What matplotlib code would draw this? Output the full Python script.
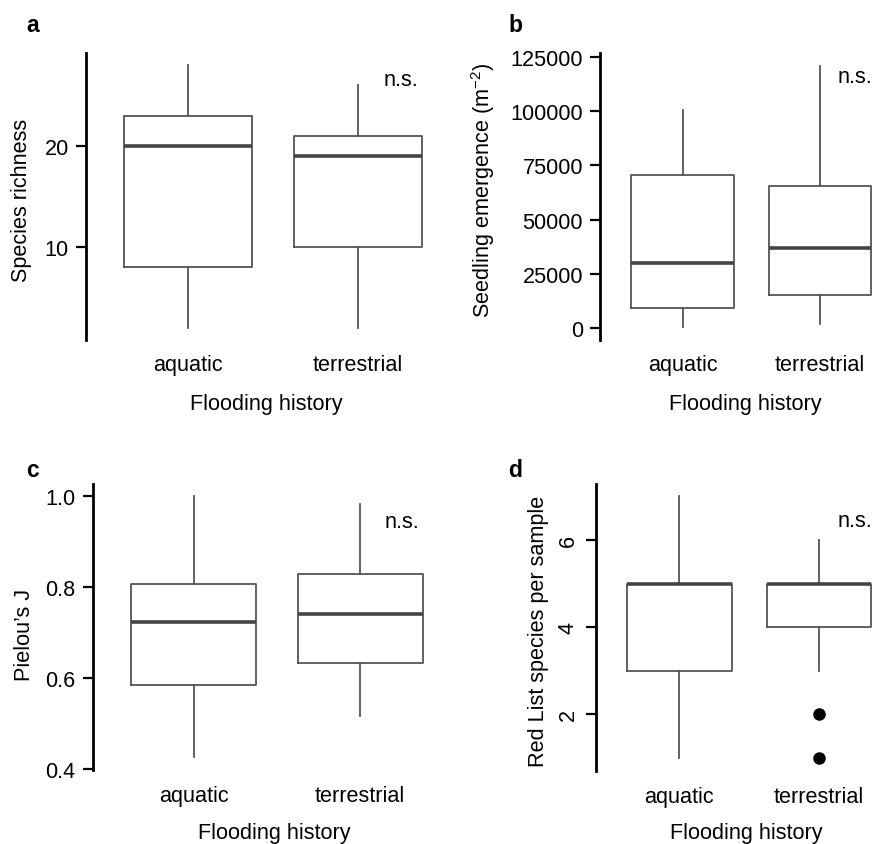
import numpy as np
import matplotlib
matplotlib.use('Agg')
import matplotlib.pyplot as plt

plt.rcParams['font.family'] = ['Liberation Sans', 'DejaVu Sans']
plt.rcParams['mathtext.default'] = 'regular'

groups = ['aquatic', 'terrestrial']

# five-number summaries: (whislo, q1, med, q3, whishi)
rich_stats = [(2, 8, 20, 23, 28), (2, 10, 19, 21, 26)]
seed_stats = [(500, 9400, 30000, 70500, 100500), (1800, 15200, 36800, 65500, 120800)]
piel_stats = [(0.426, 0.586, 0.724, 0.806, 1.0), (0.516, 0.634, 0.742, 0.829, 0.983)]
red_stats = [(1, 3, 5, 5, 7), (3, 4, 5, 5, 6)]
red_fliers = [[], [2, 1]]

W, H = 879, 845
fig = plt.figure(figsize=(W / 100, H / 100), dpi=100)

box_col = '#555555'
med_col = '#444444'
fs = 15.6


def px_axes(left, right, top, bottom):
    return fig.add_axes([left / W, 1 - bottom / H, (right - left) / W, (bottom - top) / H])


def make_stats(rows, fliers=None):
    out = []
    for i, (lo, q1, med, q3, hi) in enumerate(rows):
        d = dict(whislo=lo, q1=q1, med=med, q3=q3, whishi=hi, label=groups[i])
        d['fliers'] = fliers[i] if fliers else []
        out.append(d)
    return out


def panel(ax, stats, xlim, ylim, yticks, yticklabels=None, rot=0, xpad=10):
    ax.bxp(stats, positions=[1, 2], widths=0.75, showcaps=False,
           boxprops=dict(color=box_col, lw=1.3),
           whiskerprops=dict(color=box_col, lw=1.3),
           medianprops=dict(color=med_col, lw=2.6, solid_capstyle='butt'),
           flierprops=dict(marker='o', markerfacecolor='black', markeredgecolor='black', markersize=8))
    ax.set_xlim(*xlim)
    ax.set_ylim(*ylim)
    ax.set_yticks(yticks)
    if yticklabels is not None:
        ax.set_yticklabels(yticklabels)
    for s in ['top', 'right', 'bottom']:
        ax.spines[s].set_visible(False)
    ax.spines['left'].set_linewidth(2.0)
    ax.tick_params(axis='y', length=7.5, width=1.6, pad=5, labelsize=fs, direction='out')
    ax.tick_params(axis='x', length=0, pad=xpad, labelsize=fs)
    if rot:
        for t in ax.get_yticklabels():
            t.set_rotation(90)
            t.set_va('center')
    ax.set_facecolor('none')


ax1 = px_axes(86, 440, 54, 341)
panel(ax1, make_stats(rich_stats), (0.4, 2.482), (0.79, 29.21), [10, 20])

ax2 = px_axes(600.3, 879, 54, 341)
panel(ax2, make_stats(seed_stats), (0.398, 2.43), (-5535, 126845),
      [0, 25000, 50000, 75000, 100000, 125000])

ax3 = px_axes(92.7, 440, 485, 771)
panel(ax3, make_stats(piel_stats), (0.393, 2.48), (0.3985, 1.0263),
      [0.4, 0.6, 0.8, 1.0], ['0.4', '0.6', '0.8', '1.0'], xpad=11)

ax4 = px_axes(596.3, 879, 485, 771.7)
panel(ax4, make_stats(red_stats, red_fliers), (0.406, 2.43), (0.706, 7.285), [2, 4, 6],
      rot=90, xpad=11)


def ftext(x, y, s, **kw):
    fig.text(x / W, 1 - y / H, s, **kw)


# y labels
ftext(22, 200, 'Species richness', rotation=90, ha='center', va='center', fontsize=fs)
ftext(483, 190, 'Seedling emergence (m$^{-2}$)', rotation=90, ha='center', va='center', fontsize=fs)
ftext(25, 635, 'Pielou\u2019s J', rotation=90, ha='center', va='center', fontsize=fs)
ftext(539, 631, 'Red List species per sample', rotation=90, ha='center', va='center', fontsize=fs)

# x labels
for x, y in [(266, 410), (745, 410), (274, 839), (746, 839)]:
    ftext(x, y, 'Flooding history', ha='center', va='baseline', fontsize=fs)

# panel letters
for x, y, s in [(26, 32, 'a'), (508, 32, 'b'), (26, 477, 'c'), (508, 477, 'd')]:
    ftext(x, y, s, ha='left', va='baseline', fontsize=16.5, fontweight='bold')

# significance notes
for x, y in [(418, 86), (872, 83), (419, 528), (872, 527)]:
    ftext(x, y, 'n.s.', ha='right', va='baseline', fontsize=fs)

fig.savefig('out.png', dpi=100)
